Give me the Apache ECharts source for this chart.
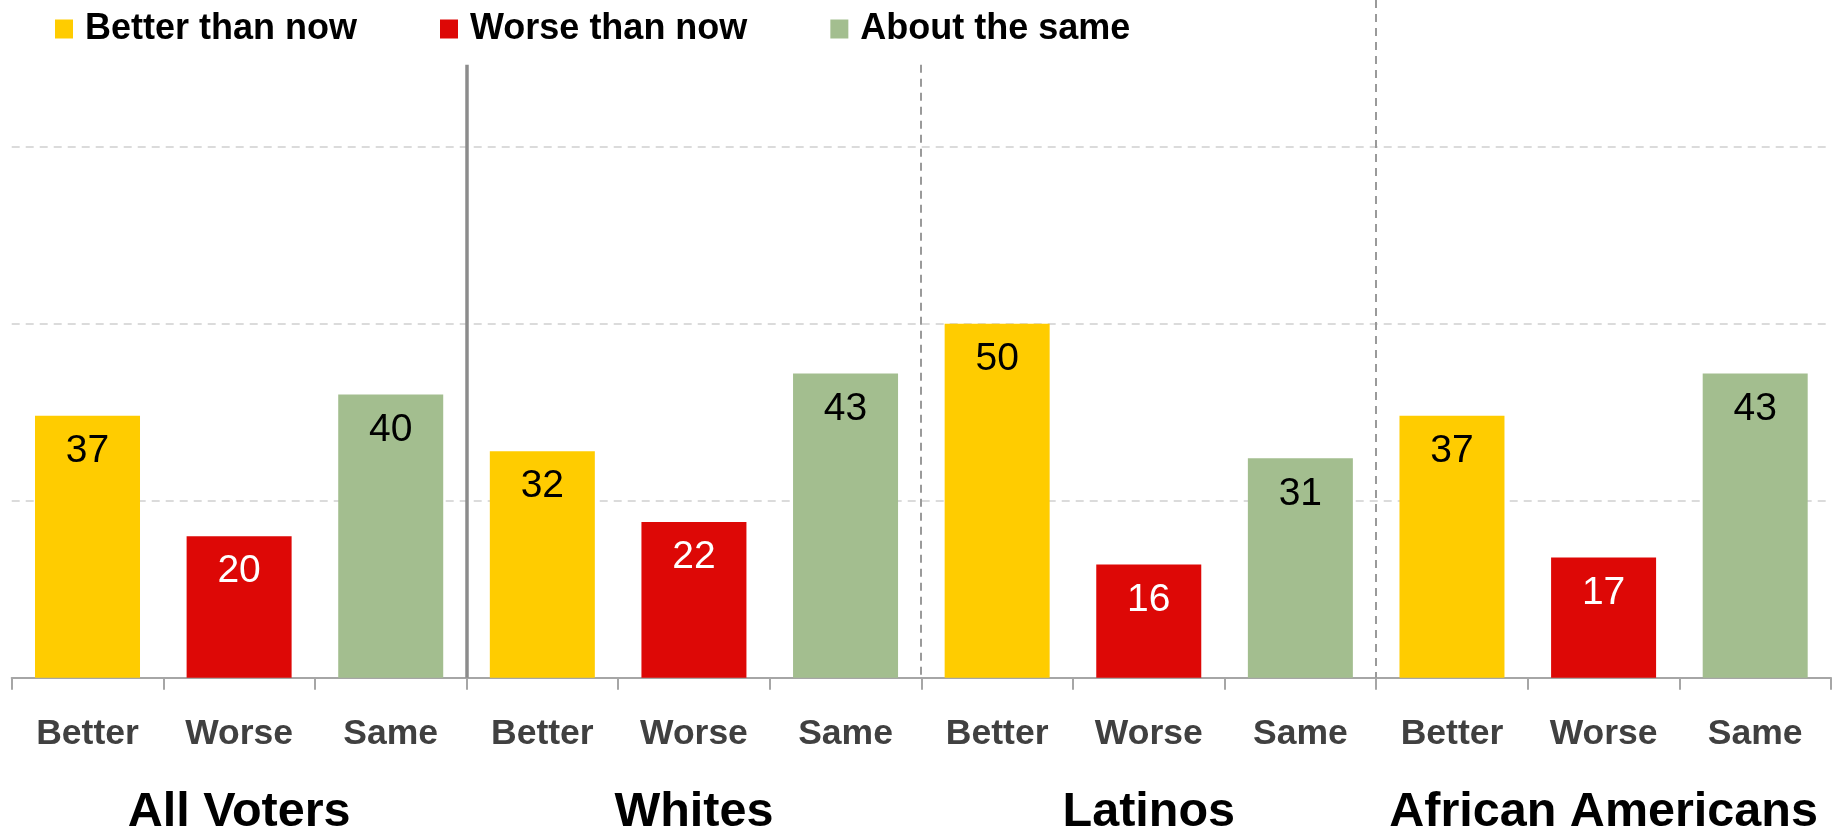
<!DOCTYPE html>
<html>
<head>
<meta charset="utf-8">
<script src="https://cdn.jsdelivr.net/npm/echarts@6/dist/echarts.min.js"></script>
<style>
html,body{margin:0;padding:0;background:#fff;}
#chart{width:1835px;height:831px;}
</style>
</head>
<body>
<div id="chart"></div>
<script>
// ---- data ----
const groups = ['All Voters', 'Whites', 'Latinos', 'African Americans'];
const answers = ['Better', 'Worse', 'Same'];
const seriesNames = ['Better than now', 'Worse than now', 'About the same'];
const betterValues = [37, 32, 50, 37];
const worseValues = [20, 22, 16, 17];
const sameValues = [40, 43, 31, 43];
const yTicks = [0, 25, 50, 75, 100];

// ---- derived ----
const categories = [];
groups.forEach(() => answers.forEach(a => categories.push(a)));
const allValues = [betterValues, worseValues, sameValues];
const colors = ['#FFCC00', '#DD0806', '#A3BE8F'];
const labelColors = ['#000000', '#FFFFFF', '#000000'];
const FONT = '"Liberation Sans", Arial, sans-serif';

const series = allValues.map((vals, k) => {
  const data = categories.map(() => '-');
  vals.forEach((v, g) => { data[g * answers.length + k] = v; });
  return {
    name: seriesNames[k],
    type: 'bar',
    data: data,
    barWidth: 105,
    barGap: '-100%',
    itemStyle: { color: colors[k] },
    label: {
      show: true,
      position: 'insideTop',
      distance: 16,
      fontFamily: FONT,
      fontSize: 39,
      color: labelColors[k]
    },
    emphasis: { disabled: true }
  };
});

const chart = echarts.init(document.getElementById('chart'), null, { renderer: 'canvas' });
chart.setOption({
  animation: false,
  backgroundColor: '#ffffff',
  legend: {
    data: seriesNames,
    left: 50,
    top: 6,
    icon: 'rect',
    itemWidth: 18,
    itemHeight: 19,
    itemGap: 83,
    textStyle: { fontFamily: FONT, fontSize: 36, fontWeight: 'bold', color: '#000', padding: [0, 0, 0, 7] }
  },
  grid: { left: 11.7, right: 4, top: -30, bottom: 153.3, containLabel: false, outerBoundsMode: 'none' },
  xAxis: [
    {
      type: 'category',
      data: categories,
      position: 'bottom',
      axisLine: { show: true, lineStyle: { color: '#A6A6A6', width: 2 } },
      axisTick: { show: true, length: 12, interval: 0, lineStyle: { color: '#A6A6A6', width: 2 } },
      axisLabel: { interval: 0, margin: 39, fontFamily: FONT, fontSize: 35.5, fontWeight: 'bold', color: '#404040' },
      splitLine: { show: false }
    },
    {
      type: 'category',
      data: groups,
      position: 'bottom',
      axisLine: { show: false },
      axisTick: { show: false },
      axisLabel: { interval: 0, margin: 110, fontFamily: FONT, fontSize: 48.5, fontWeight: 'bold', color: '#000' },
      splitLine: { show: false }
    }
  ],
  yAxis: {
    type: 'value',
    min: yTicks[0],
    max: yTicks[yTicks.length - 1],
    interval: yTicks[1] - yTicks[0],
    axisLine: { show: false },
    axisTick: { show: false },
    axisLabel: { show: false },
    splitLine: { show: true, lineStyle: { color: '#D0D0D0', width: 1.5, type: [8, 6] } }
  },
  series: series
});

// group separators at category boundaries
function boundaryX(i) {
  const a = chart.convertToPixel({ xAxisIndex: 0 }, i - 1);
  const b = chart.convertToPixel({ xAxisIndex: 0 }, i);
  return (a + b) / 2;
}
const yBase = chart.convertToPixel({ yAxisIndex: 0 }, 0);
const dividerTop = chart.convertToPixel({ yAxisIndex: 0 }, 86.6);
const dividers = [
  { idx: 3, top: dividerTop, solid: true },
  { idx: 6, top: dividerTop, solid: false },
  { idx: 9, top: 0, solid: false }
];
chart.setOption({
  graphic: dividers.map(d => {
    const x = Math.round(boundaryX(d.idx));
    return {
      type: 'line',
      silent: true,
      z: 10,
      shape: { x1: x, y1: d.top, x2: x, y2: yBase },
      style: d.solid
        ? { stroke: '#8C8C8C', lineWidth: 3.5 }
        : { stroke: '#9A9A9A', lineWidth: 2, lineDash: [8, 6] }
    };
  })
});
</script>
</body>
</html>
